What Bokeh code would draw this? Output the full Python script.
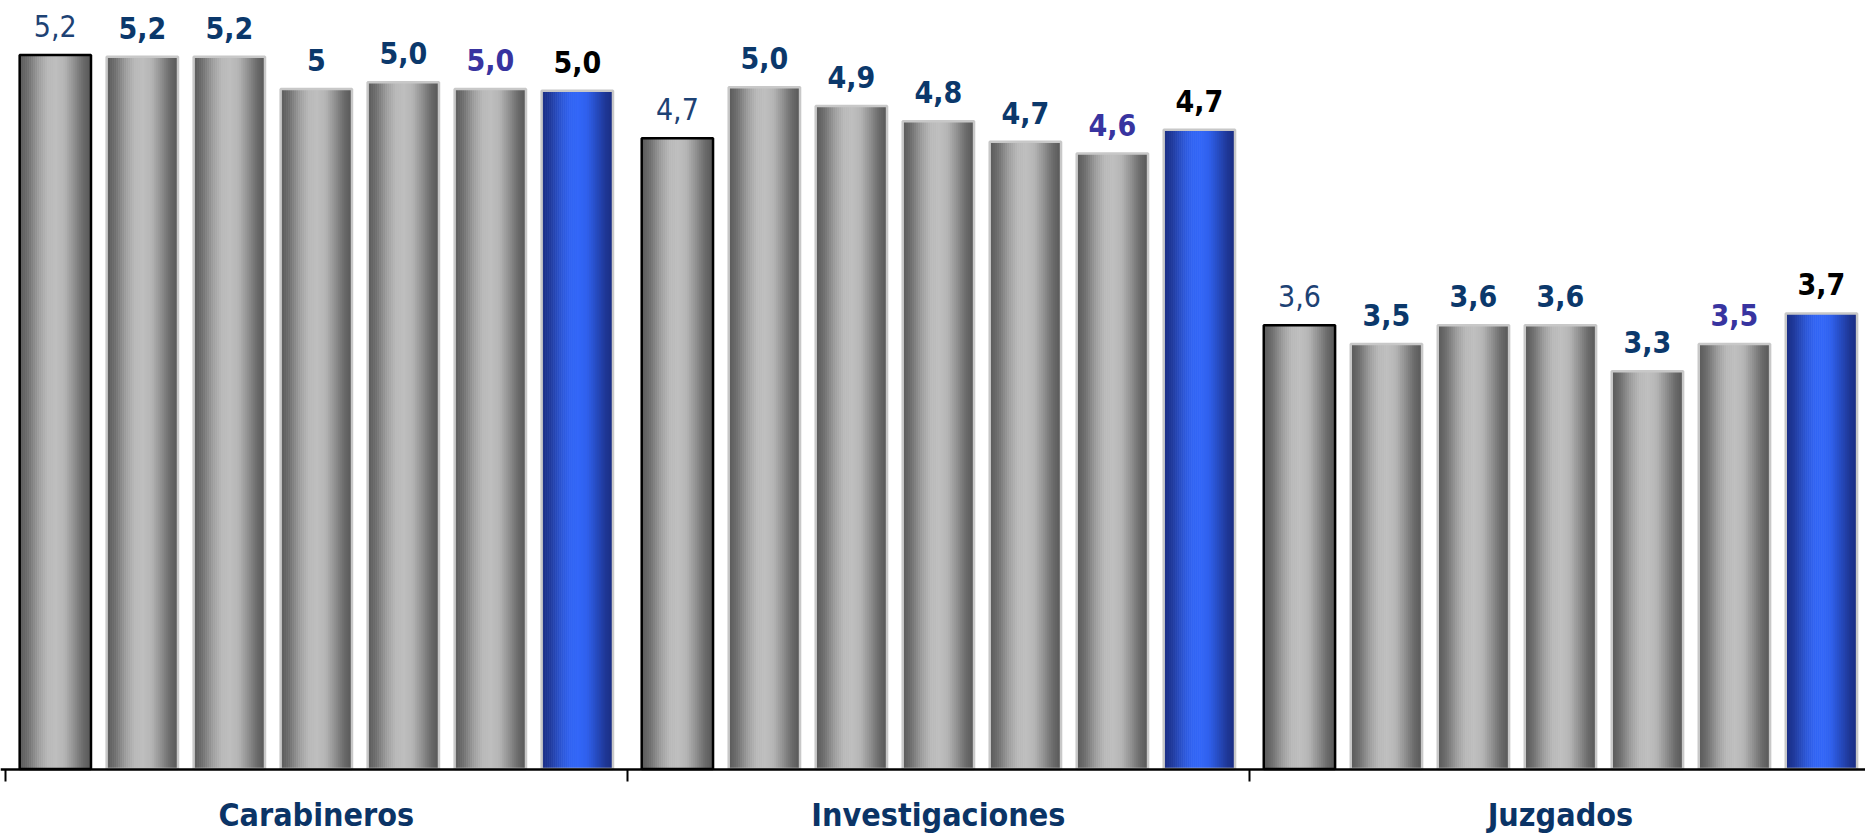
from bokeh.plotting import figure
from bokeh.models import ColumnDataSource, FixedTicker, Range1d
from bokeh.core.properties import value
from bokeh.embed import file_html
from bokeh.resources import INLINE

# ---------------- data ----------------
categories = ["Carabineros", "Investigaciones", "Juzgados"]
carabineros = [5.20, 5.19, 5.19, 5.00, 5.04, 5.00, 4.99]
investigaciones = [4.71, 5.01, 4.90, 4.81, 4.69, 4.62, 4.76]
juzgados = [3.61, 3.50, 3.61, 3.61, 3.34, 3.50, 3.68]
labels_carabineros = ["5,2", "5,2", "5,2", "5", "5,0", "5,0", "5,0"]
labels_investigaciones = ["4,7", "5,0", "4,9", "4,8", "4,7", "4,6", "4,7"]
labels_juzgados = ["3,6", "3,5", "3,6", "3,6", "3,3", "3,5", "3,7"]

series_values = [carabineros, investigaciones, juzgados]
series_labels = [labels_carabineros, labels_investigaciones, labels_juzgados]

# ---------------- styling ----------------
GROUP_W = 7.15      # width of one category, in bar slots
PAD = 0.075         # padding at the category edges
BAR_W = 0.82        # bar width (fraction of slot)
Y0 = 1.0
FONT = "DejaVu Sans Condensed"
W, H = 1865, 835
PXX = 87.0          # pixels per bar slot
PX = 170.0          # pixels per value unit
AXIS_X0 = 4.8       # pixel position of the first category boundary
AXIS_Y = 768.5      # pixel position of the baseline

# gradient stops across a bar (position, gray level)
STOPS = [(0.0, 88), (0.12, 110), (0.28, 160), (0.40, 185), (0.52, 190),
         (0.64, 180), (0.78, 140), (0.90, 105), (1.0, 88)]
N = 36
BLUE_DARK = (26, 45, 130)
BLUE_BRIGHT = (50, 102, 248)


def hexc(r, g, b):
    return "#%02x%02x%02x" % (int(round(r)), int(round(g)), int(round(b)))


def level(t):
    for (t0, g0), (t1, g1) in zip(STOPS[:-1], STOPS[1:]):
        if t0 <= t <= t1:
            return g0 + (g1 - g0) * (t - t0) / (t1 - t0)
    return STOPS[-1][1]


levels = [level((s + 0.5) / N) for s in range(N)]
gray_cols = [hexc(g, g, g) for g in levels]
blue_cols = []
for g in levels:
    f = (g - 88) / 102.0
    blue_cols.append(hexc(*[d + f * (b - d) for d, b in zip(BLUE_DARK, BLUE_BRIGHT)]))

label_colors = ["#1d4274", "#0b386b", "#0b386b", "#0b386b", "#0b386b", "#3834a0", "#000000"]
label_styles = ["normal", "bold", "bold", "bold", "bold", "bold", "bold"]
border_colors = ["#000000"] + ["#c8c8c8"] * 6

# ---------------- build sources ----------------
sx, stop, sw, scol = [], [], [], []
bx, btop, bcol = [], [], []
tx, ty, ttext, tcol, tsty = [], [], [], [], []
for c, (vals, labs) in enumerate(zip(series_values, series_labels)):
    for j, (v, lab) in enumerate(zip(vals, labs)):
        cx = c * GROUP_W + PAD + j + 0.5
        cols = blue_cols if j == 6 else gray_cols
        for s in range(N):
            sx.append(cx - BAR_W / 2 + (s + 0.5) * BAR_W / N)
            stop.append(v)
            sw.append(BAR_W / N * 1.3)
            scol.append(cols[s])
        bx.append(cx)
        btop.append(v)
        bcol.append(border_colors[j])
        tx.append(cx)
        ty.append(v)
        ttext.append(lab)
        tcol.append(label_colors[j])
        tsty.append(label_styles[j])

strips = ColumnDataSource(dict(x=sx, top=stop, w=sw, color=scol))
borders = ColumnDataSource(dict(x=bx, top=btop, color=bcol))
texts = ColumnDataSource(dict(x=tx, y=ty, text=ttext, color=tcol, fstyle=tsty))

# ---------------- figure ----------------
x0 = -AXIS_X0 / PXX
p = figure(width=W, height=H,
           x_range=Range1d(x0, x0 + W / PXX),
           y_range=Range1d(Y0 - (H - AXIS_Y) / PX, Y0 + AXIS_Y / PX),
           output_backend="svg", toolbar_location=None,
           min_border_left=0, min_border_right=0, min_border_top=0, min_border_bottom=0)
p.outline_line_color = None
p.xgrid.visible = False
p.ygrid.visible = False
p.yaxis.visible = False
p.background_fill_color = "white"
p.border_fill_color = "white"

p.vbar(x="x", top="top", bottom=Y0, width="w", source=strips,
       fill_color="color", line_color=None)
p.vbar(x="x", top="top", bottom=Y0, width=BAR_W, source=borders,
       fill_color=None, line_color="color", line_width=2.5)
p.text(x="x", y="y", text="text", source=texts, y_offset=-29,
       text_align="center", text_baseline="alphabetic",
       text_font=value(FONT), text_font_size="30px",
       text_font_style="fstyle", text_color="color")

centers = [c * GROUP_W + GROUP_W / 2 for c in range(len(categories))]
bounds = [c * GROUP_W for c in range(len(categories) + 1)]
ax = p.xaxis[0]
ax.fixed_location = Y0
ax.ticker = FixedTicker(ticks=centers, minor_ticks=bounds)
ax.major_label_overrides = {cv: name for cv, name in zip(centers, categories)}
ax.axis_line_color = "black"
ax.axis_line_width = 2.5
ax.major_tick_line_color = None
ax.major_tick_in = 0
ax.major_tick_out = 0
ax.minor_tick_in = 0
ax.minor_tick_out = 12
ax.minor_tick_line_color = "black"
ax.minor_tick_line_width = 2
ax.major_label_standoff = 15
ax.major_label_text_font = FONT
ax.major_label_text_font_size = "32px"
ax.major_label_text_font_style = "bold"
ax.major_label_text_color = "#0b3466"

open("out.html", "w").write(file_html(p, INLINE))
